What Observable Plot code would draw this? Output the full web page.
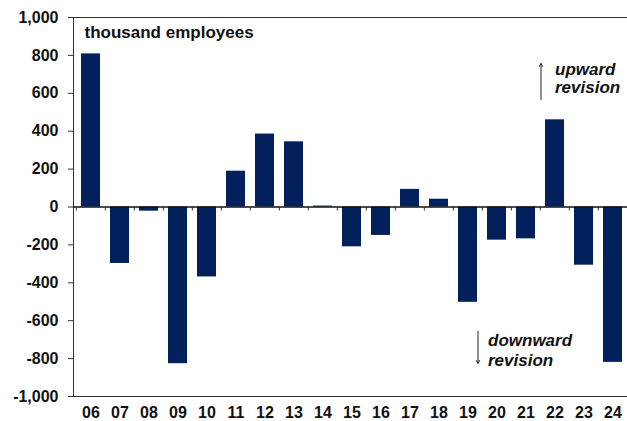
<!DOCTYPE html>
<html>
<head>
<meta charset="utf-8">
<script src="https://cdn.jsdelivr.net/npm/d3@7"></script>
<script src="https://cdn.jsdelivr.net/npm/@observablehq/plot@0.6"></script>
<style>
  html, body { margin: 0; padding: 0; background: #fff; }
</style>
</head>
<body>
<div id="chart"></div>
<script>
const years = ["06","07","08","09","10","11","12","13","14","15","16","17","18","19","20","21","22","23","24"];
const revisions = [808, -298, -22, -827, -369, 189, 385, 344, 5, -210, -150, 93, 41, -503, -175, -168, 460, -307, -820];
const yTicks = [-1000, -800, -600, -400, -200, 0, 200, 400, 600, 800, 1000];
const unitLabel = "thousand employees";
const upNote = [{x: "22", y: 680, label: "upward\nrevision"}];
const downNote = [{x: "19", y: -750, label: "downward\nrevision"}];
const upArrow = [{x: "22", from: 566, to: 757}];
const downArrow = [{x: "19", from: -656, to: -825}];

const data = years.map((year, i) => ({year, value: revisions[i]}));

const W = 627, H = 421, ML = 73, MR = -3;
const step = (W - MR - ML) / years.length;

const chart = Plot.plot({
  width: W,
  height: H,
  marginTop: 17,
  marginBottom: 25,
  marginLeft: ML,
  marginRight: MR,
  style: {fontFamily: "'Liberation Sans', Arial, sans-serif", fontWeight: "bold", fontSize: "16px", color: "#111", background: "#fff"},
  x: {type: "band", domain: years, paddingInner: 0.33, paddingOuter: 0.165, label: null},
  y: {domain: [-1000, 1000], label: null},
  marks: [
    Plot.frame({stroke: "#333", strokeWidth: 1}),
    Plot.barY(data, {x: "year", y: "value", fill: "#02205c"}),
    Plot.ruleY([0], {stroke: "#111", strokeWidth: 1.3}),
    Plot.ruleX(years, {x: d => d, y1: () => 0, y2: () => 0, insetBottom: -4, dx: -step / 2, stroke: "#333", strokeWidth: 1}),
    Plot.axisY({ticks: yTicks, tickSize: 5, tickPadding: 10, tickFormat: d => d.toLocaleString("en-US"), fontSize: 16, fontWeight: "bold", stroke: "#333", label: null}),
    Plot.axisX({tickSize: 0, tickPadding: 10, fontSize: 16, fontWeight: "bold", label: null}),
    Plot.text([unitLabel], {frameAnchor: "top-left", dx: 11, dy: 8, textAnchor: "start", lineAnchor: "top", fontSize: 17, fontWeight: "bold", fill: "#111"}),
    Plot.arrow(upArrow, {x1: "x", x2: "x", y1: "from", y2: "to", dx: -14, stroke: "#222", strokeWidth: 1, headLength: 5}),
    Plot.arrow(downArrow, {x1: "x", x2: "x", y1: "from", y2: "to", dx: 10, stroke: "#222", strokeWidth: 1, headLength: 5}),
    Plot.text(upNote, {x: "x", y: "y", text: "label", textAnchor: "start", lineAnchor: "middle", lineHeight: 1.1, fontSize: 17, fontStyle: "italic", fontWeight: "bold", fill: "#111"}),
    Plot.text(downNote, {x: "x", y: "y", text: "label", textAnchor: "start", lineAnchor: "middle", lineHeight: 1.18, dx: 20, fontSize: 17, fontStyle: "italic", fontWeight: "bold", fill: "#111"})
  ]
});
document.getElementById("chart").appendChild(chart);
</script>
</body>
</html>
